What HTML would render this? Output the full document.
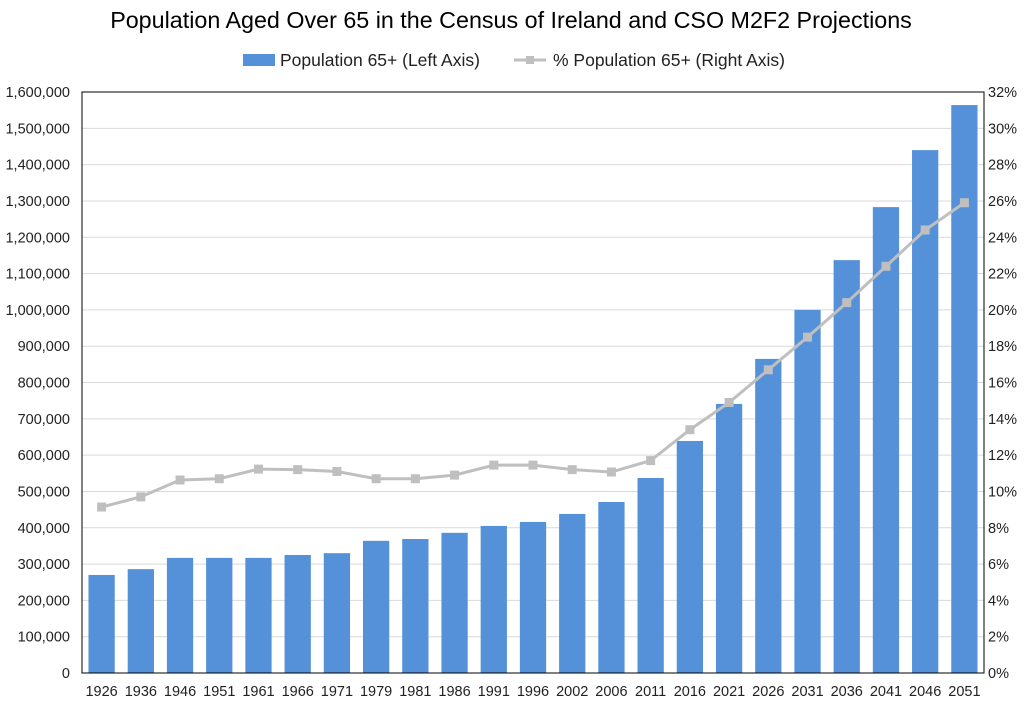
<!DOCTYPE html>
<html><head><meta charset="utf-8">
<style>
html,body{margin:0;padding:0;background:#fff;}
svg{display:block;font-family:"Liberation Sans",Arial,sans-serif;}
</style></head>
<body>
<svg id="chart" width="1029" height="704" viewBox="0 0 1029 704">
<text x="511" y="28" text-anchor="middle" font-size="23.3" fill="#000">Population Aged Over 65 in the Census of Ireland and CSO M2F2 Projections</text>
<g>
<rect x="243" y="54" width="32" height="12" fill="#5591d8"/>
<text x="280" y="66" font-size="17.5" fill="#222">Population 65+ (Left Axis)</text>
<line x1="514" y1="60" x2="546" y2="60" stroke="#bfbfbf" stroke-width="3"/>
<rect x="526" y="56" width="8" height="8" fill="#bfbfbf"/>
<text x="553" y="66" font-size="17.5" fill="#222">% Population 65+ (Right Axis)</text>
</g>
<g id="grid"></g>
<g id="bars"></g>
<g id="line"></g>
<g id="axes"></g>
</svg>
<script>
const categories=["1926","1936","1946","1951","1961","1966","1971","1979","1981","1986","1991","1996","2002","2006","2011","2016","2021","2026","2031","2036","2041","2046","2051"];
const popValues=[270000,286000,317000,317000,317000,325000,330000,364000,369000,386000,405000,416000,438000,471000,537000,639000,741000,865000,1000000,1137000,1283000,1440000,1564000];
const pctValues=[9.14,9.7,10.63,10.7,11.23,11.2,11.1,10.7,10.7,10.9,11.45,11.45,11.2,11.07,11.7,13.4,14.9,16.7,18.5,20.4,22.4,24.4,25.9];
const leftTicks=[0,100000,200000,300000,400000,500000,600000,700000,800000,900000,1000000,1100000,1200000,1300000,1400000,1500000,1600000];
const rightTicks=[0,2,4,6,8,10,12,14,16,18,20,22,24,26,28,30,32];

const NS="http://www.w3.org/2000/svg";
const L=82,R=984,T=92,B=673;
const yL=v=>B-(v/1600000)*(B-T);
const yR=v=>B-(v/32)*(B-T);
const step=(R-L)/categories.length;
const xC=i=>L+step*(i+0.5);
function mk(tag,attrs,parent,text){const e=document.createElementNS(NS,tag);for(const k in attrs)e.setAttribute(k,attrs[k]);if(text!==undefined)e.textContent=text;parent.appendChild(e);return e;}
const grid=document.getElementById('grid'),bars=document.getElementById('bars'),line=document.getElementById('line'),axes=document.getElementById('axes');
leftTicks.forEach(v=>{
  const y=yL(v);
  if(v>0){const g=mk('line',{x1:L,x2:R,y1:y,y2:y,stroke:'#d9d9d9','stroke-width':1},grid);
  
  }
  const t=mk('text',{x:L-12,y:y+5,'text-anchor':'end','font-size':14.5,fill:'#222'},axes,v.toLocaleString('en-US'));
  
  
});
rightTicks.forEach(v=>{
  const t=mk('text',{x:R+4,y:yR(v)+5,'font-size':14.5,fill:'#222'},axes,v+'%');
  
  
});
const bw=step*0.67;
popValues.forEach((v,i)=>{
  const r=mk('rect',{x:xC(i)-bw/2,y:yL(v),width:bw,height:B-yL(v),fill:'#5591d8'},bars);
  
  
});
const pts=pctValues.map((v,i)=>xC(i)+','+yR(v)).join(' ');
const pl=mk('polyline',{points:pts,fill:'none',stroke:'#bfbfbf','stroke-width':3},line);


pctValues.forEach((v,i)=>{
  const m=mk('rect',{x:xC(i)-4.5,y:yR(v)-4.5,width:9,height:9,fill:'#bfbfbf'},line);
  
  
});
const fr=mk('rect',{x:L,y:T,width:R-L,height:B-T,fill:'none',stroke:'#000','stroke-width':1},axes);


categories.forEach((c,i)=>{
  const t=mk('text',{x:xC(i),y:B+23,'text-anchor':'middle','font-size':14.5,fill:'#222'},axes,c);
  
  
});
</script>
</body></html>
